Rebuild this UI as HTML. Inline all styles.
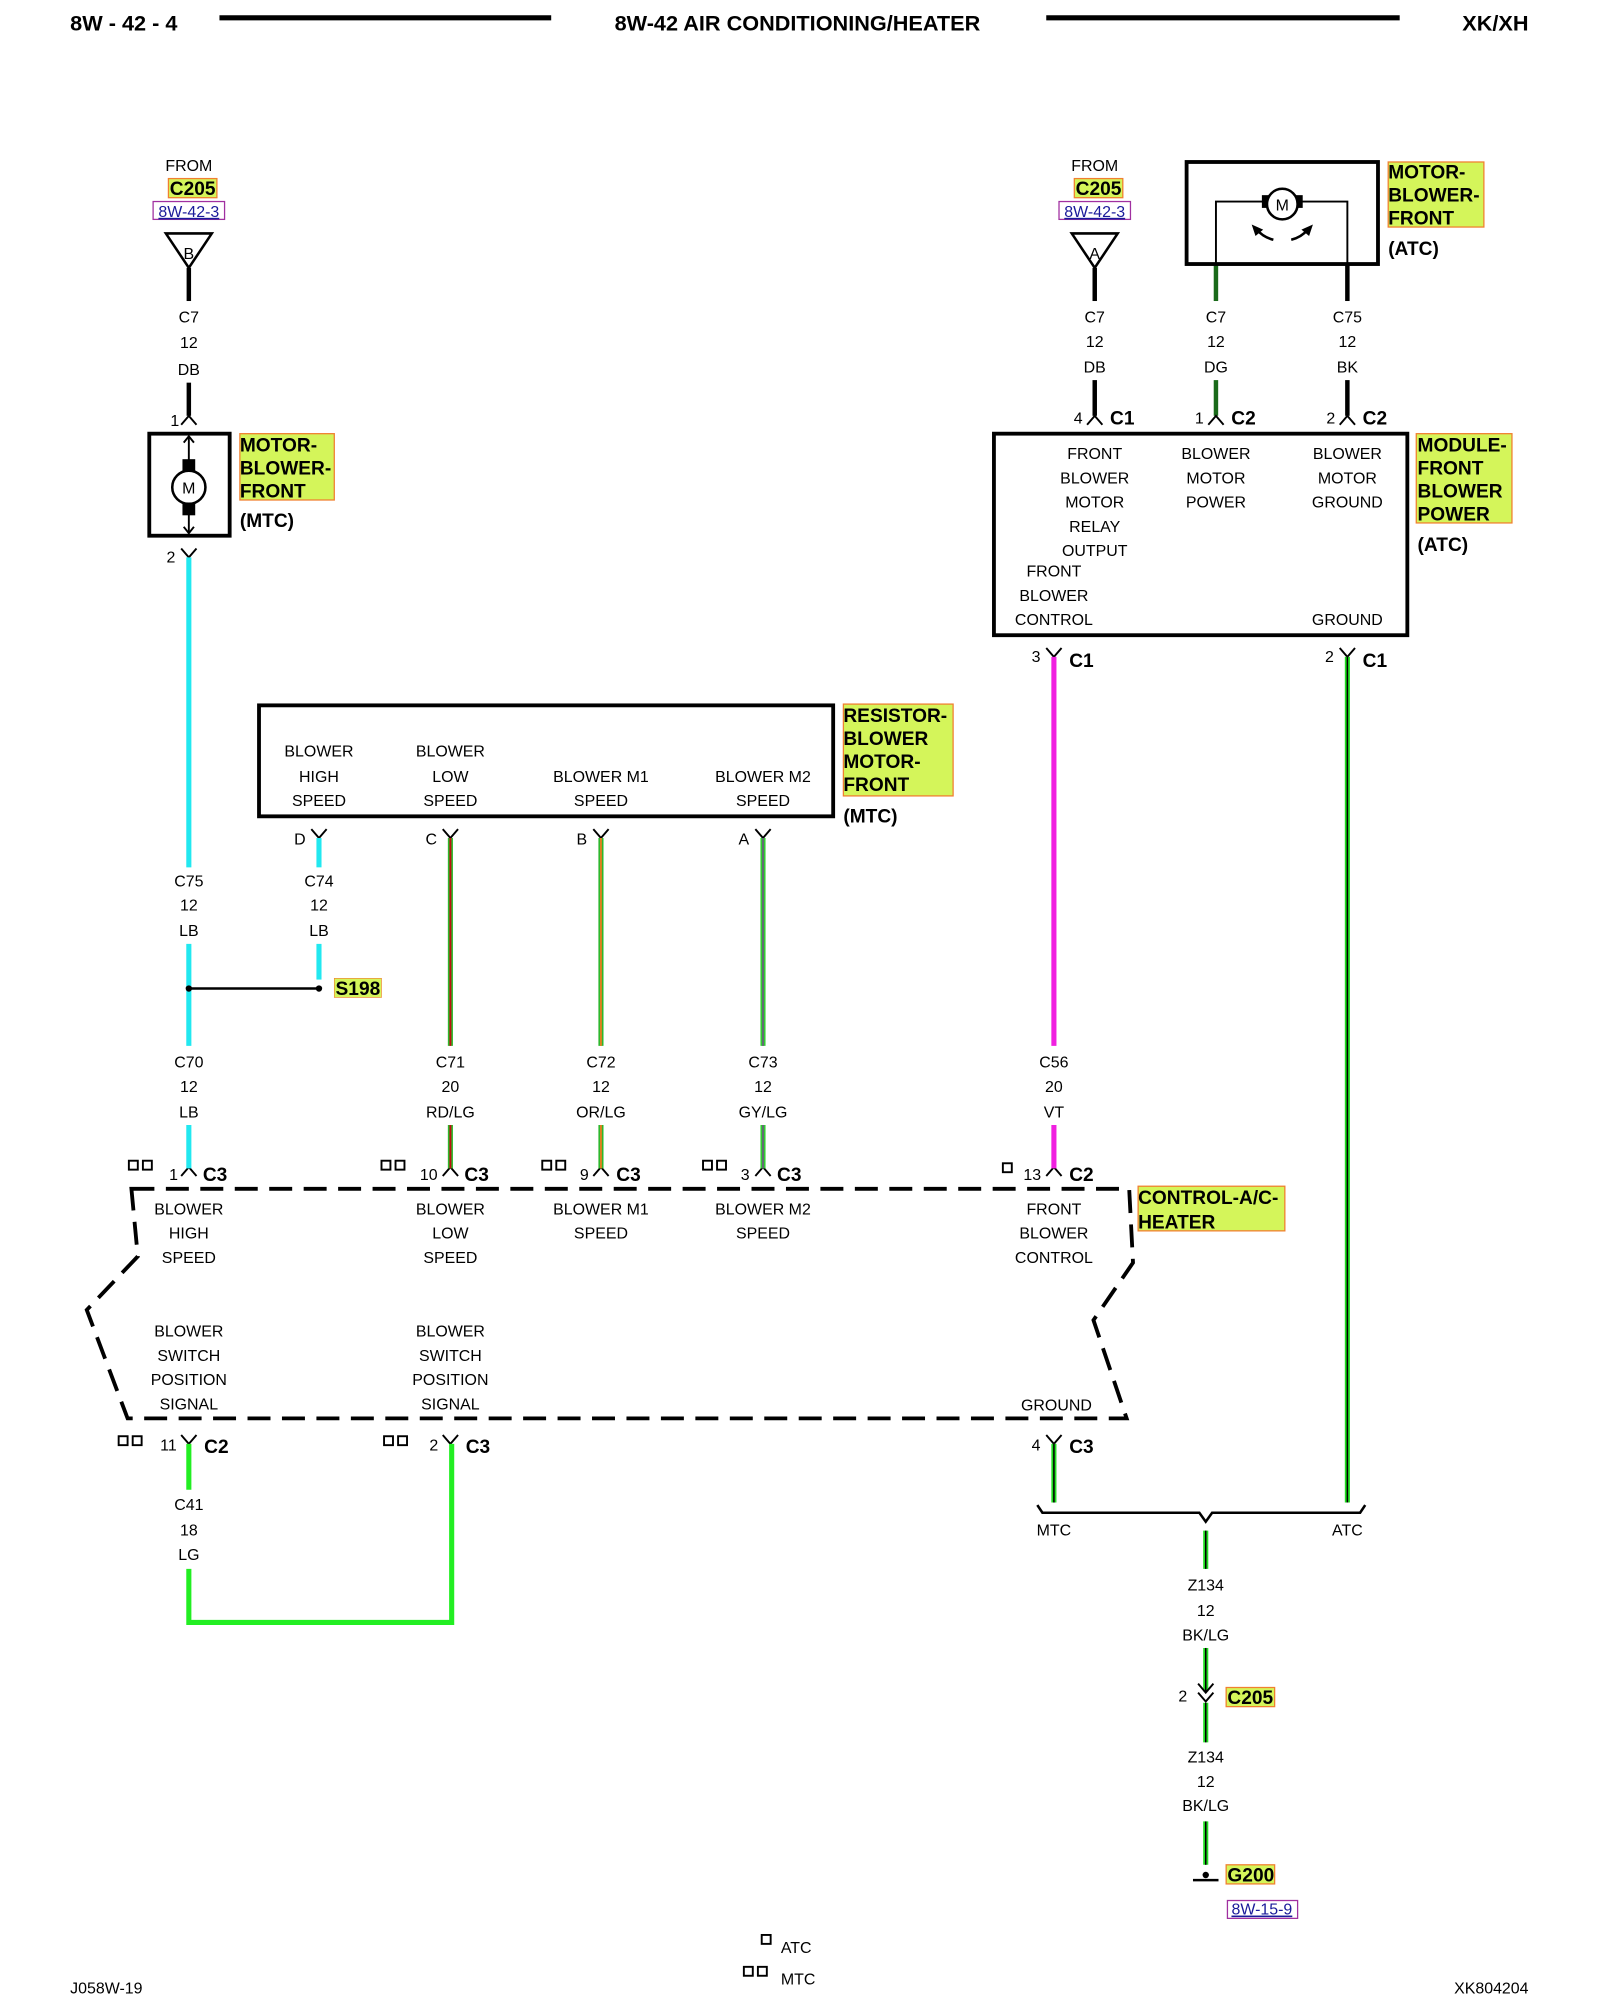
<!DOCTYPE html>
<html><head><meta charset="utf-8"><style>
html,body{margin:0;padding:0;background:#fff}
svg{display:block}
text{font-family:"Liberation Sans",Arial,sans-serif;fill:#000}
.s{font-size:12.5px;text-anchor:middle}
.b{font-size:15px;font-weight:bold}
.h{font-size:17px;font-weight:bold}
</style></head><body>
<svg width="1600" height="2000" viewBox="0 0 1254 1568" preserveAspectRatio="none" xmlns="http://www.w3.org/2000/svg">
<!-- header -->
<text x="55" y="24" class="h">8W - 42 - 4</text>
<line x1="172" y1="14" x2="432" y2="14" stroke="#000" stroke-width="4"/>
<text x="625" y="24" class="h" text-anchor="middle">8W-42 AIR CONDITIONING/HEATER</text>
<line x1="820" y1="14" x2="1097" y2="14" stroke="#000" stroke-width="4"/>
<text x="1198" y="24" class="h" text-anchor="end">XK/XH</text>

<g fill="none" stroke="#000" stroke-width="2">
<polygon points="130,183 166,183 148,210"/>
<polygon points="840,183 876,183 858,210"/>
</g>
<text x="148" y="134" class="s">FROM</text>
<rect x="132" y="140" width="38" height="15" fill="#d4f55a" stroke="#f08030"/>
<text x="151" y="153" class="b" text-anchor="middle" font-size="14">C205</text>
<rect x="120" y="158" width="56" height="14" fill="none" stroke="#a030a0"/>
<text x="148" y="170" class="s" style="fill:#1a1a9a;text-decoration:underline">8W-42-3</text>
<text x="148" y="203" class="s">B</text>

<text x="858" y="134" class="s">FROM</text>
<rect x="842" y="140" width="38" height="15" fill="#d4f55a" stroke="#f08030"/>
<text x="861" y="153" class="b" text-anchor="middle" font-size="14">C205</text>
<rect x="830" y="158" width="56" height="14" fill="none" stroke="#a030a0"/>
<text x="858" y="170" class="s" style="fill:#1a1a9a;text-decoration:underline">8W-42-3</text>
<text x="858" y="203" class="s">A</text>

<g stroke="#000" stroke-width="3.5" fill="none">
<line x1="148" y1="210" x2="148" y2="236"/>
<line x1="148" y1="300" x2="148" y2="326"/>
<line x1="858" y1="210" x2="858" y2="236"/>
<line x1="858" y1="298" x2="858" y2="326"/>
<line x1="1056" y1="207" x2="1056" y2="236"/>
<line x1="1056" y1="298" x2="1056" y2="326"/>
</g>
<g stroke="#1a6a1a" stroke-width="3.5" fill="none">
<line x1="953" y1="207" x2="953" y2="236"/>
<line x1="953" y1="298" x2="953" y2="326"/>
</g>
<g>
<text x="148" y="253" class="s">C7</text><text x="148" y="273" class="s">12</text><text x="148" y="294" class="s">DB</text>
<text x="858" y="253" class="s">C7</text><text x="858" y="272" class="s">12</text><text x="858" y="292" class="s">DB</text>
<text x="953" y="253" class="s">C7</text><text x="953" y="272" class="s">12</text><text x="953" y="292" class="s">DG</text>
<text x="1056" y="253" class="s">C75</text><text x="1056" y="272" class="s">12</text><text x="1056" y="292" class="s">BK</text>
</g>

<g stroke="#000" stroke-width="1.5" fill="none">
<path d="M142,333 L148,326 L154,333"/>
<path d="M852,333 L858,326 L864,333"/>
<path d="M947,333 L953,326 L959,333"/>
<path d="M1050,333 L1056,326 L1062,333"/>
</g>
<text x="137" y="334" class="s">1</text>
<text x="845" y="332" class="s">4</text><text x="870" y="333" class="b">C1</text>
<text x="940" y="332" class="s">1</text><text x="965" y="333" class="b">C2</text>
<text x="1043" y="332" class="s">2</text><text x="1068" y="333" class="b">C2</text>

<rect x="117" y="340" width="63" height="80" fill="none" stroke="#000" stroke-width="3"/>
<line x1="148" y1="342" x2="148" y2="418" stroke="#000" stroke-width="1.5"/>
<path d="M144,347 L148,342 L152,347 M144,413 L148,418 L152,413" stroke="#000" fill="none" stroke-width="1.5"/>
<rect x="143" y="360" width="10" height="44" fill="#000"/>
<circle cx="148" cy="382" r="13" fill="#fff" stroke="#000" stroke-width="2"/>
<text x="148" y="387" class="s" font-size="11">M</text>
<rect x="188" y="340" width="74" height="52" fill="#d4f55a" stroke="#f08030"/>
<text x="188" y="354" class="b">MOTOR-</text>
<text x="188" y="372" class="b">BLOWER-</text>
<text x="188" y="390" class="b">FRONT</text>
<text x="188" y="413" class="b">(MTC)</text>

<rect x="930" y="127" width="150" height="80" fill="none" stroke="#000" stroke-width="3"/>
<path d="M953,207 L953,158 L992,158 M1018,158 L1056,158 L1056,207" stroke="#000" stroke-width="1.5" fill="none"/>
<rect x="989" y="153" width="32" height="10" fill="#000"/>
<circle cx="1005" cy="160" r="12" fill="#fff" stroke="#000" stroke-width="2"/>
<text x="1005" y="165" class="s" font-size="11">M</text>
<path d="M998,188 Q990,186 985,180" stroke="#000" stroke-width="2" fill="none"/>
<path d="M981,176 L990,180 L984,185 Z" fill="#000"/>
<path d="M1012,188 Q1020,186 1025,180" stroke="#000" stroke-width="2" fill="none"/>
<path d="M1029,176 L1020,180 L1026,185 Z" fill="#000"/>
<rect x="1088" y="127" width="75" height="51" fill="#d4f55a" stroke="#f08030"/>
<text x="1088" y="140" class="b">MOTOR-</text>
<text x="1088" y="158" class="b">BLOWER-</text>
<text x="1088" y="176" class="b">FRONT</text>
<text x="1088" y="200" class="b">(ATC)</text>

<rect x="779" y="340" width="324" height="158" fill="none" stroke="#000" stroke-width="3"/>
<g>
<text x="858" y="360" class="s">FRONT</text><text x="858" y="379" class="s">BLOWER</text><text x="858" y="398" class="s">MOTOR</text><text x="858" y="417" class="s">RELAY</text><text x="858" y="436" class="s">OUTPUT</text>
<text x="953" y="360" class="s">BLOWER</text><text x="953" y="379" class="s">MOTOR</text><text x="953" y="398" class="s">POWER</text>
<text x="1056" y="360" class="s">BLOWER</text><text x="1056" y="379" class="s">MOTOR</text><text x="1056" y="398" class="s">GROUND</text>
<text x="826" y="452" class="s">FRONT</text><text x="826" y="471" class="s">BLOWER</text><text x="826" y="490" class="s">CONTROL</text>
<text x="1056" y="490" class="s">GROUND</text>
</g>
<rect x="1110" y="340" width="75" height="70" fill="#d4f55a" stroke="#f08030"/>
<text x="1111" y="354" class="b">MODULE-</text>
<text x="1111" y="372" class="b">FRONT</text>
<text x="1111" y="390" class="b">BLOWER</text>
<text x="1111" y="408" class="b">POWER</text>
<text x="1111" y="432" class="b">(ATC)</text>

<g stroke="#000" stroke-width="1.5" fill="none">
<path d="M142,430 L148,437 L154,430"/>
<path d="M820,508 L826,515 L832,508"/>
<path d="M1050,508 L1056,515 L1062,508"/>
<path d="M244,650 L250,657 L256,650"/>
<path d="M347,650 L353,657 L359,650"/>
<path d="M465,650 L471,657 L477,650"/>
<path d="M592,650 L598,657 L604,650"/>
<path d="M142,1125 L148,1132 L154,1125"/>
<path d="M347,1125 L353,1132 L359,1125"/>
<path d="M820,1125 L826,1132 L832,1125"/>
<path d="M142,922 L148,915 L154,922"/>
<path d="M347,922 L353,915 L359,922"/>
<path d="M465,922 L471,915 L477,922"/>
<path d="M592,922 L598,915 L604,922"/>
<path d="M820,922 L826,915 L832,922"/>
</g>
<text x="134" y="441" class="s">2</text>
<text x="812" y="519" class="s">3</text><text x="838" y="523" class="b">C1</text>
<text x="1042" y="519" class="s">2</text><text x="1068" y="523" class="b">C1</text>

<g fill="none">
<line x1="148" y1="437" x2="148" y2="680" stroke="#22e8f0" stroke-width="4"/>
<line x1="148" y1="740" x2="148" y2="820" stroke="#22e8f0" stroke-width="4"/>
<line x1="148" y1="882" x2="148" y2="916" stroke="#22e8f0" stroke-width="4"/>
<line x1="250" y1="657" x2="250" y2="680" stroke="#22e8f0" stroke-width="4"/>
<line x1="250" y1="740" x2="250" y2="768" stroke="#22e8f0" stroke-width="4"/>
<line x1="148" y1="775" x2="250" y2="775" stroke="#000" stroke-width="2"/>
<g stroke-width="4">
<line x1="353" y1="657" x2="353" y2="820" stroke="#2db82d"/>
<line x1="353" y1="882" x2="353" y2="916" stroke="#2db82d"/>
<line x1="471" y1="657" x2="471" y2="820" stroke="#2db82d"/>
<line x1="471" y1="882" x2="471" y2="916" stroke="#2db82d"/>
<line x1="598" y1="657" x2="598" y2="820" stroke="#33cc33"/>
<line x1="598" y1="882" x2="598" y2="916" stroke="#33cc33"/>
</g>
<g stroke-width="1.5">
<line x1="353" y1="657" x2="353" y2="820" stroke="#c01010"/>
<line x1="353" y1="882" x2="353" y2="916" stroke="#c01010"/>
<line x1="471" y1="657" x2="471" y2="820" stroke="#e08020"/>
<line x1="471" y1="882" x2="471" y2="916" stroke="#e08020"/>
<line x1="598" y1="657" x2="598" y2="820" stroke="#667"/>
<line x1="598" y1="882" x2="598" y2="916" stroke="#667"/>
</g>
<line x1="826" y1="515" x2="826" y2="820" stroke="#f020e0" stroke-width="4"/>
<line x1="826" y1="882" x2="826" y2="916" stroke="#f020e0" stroke-width="4"/>
<line x1="1056" y1="515" x2="1056" y2="1178" stroke="#22dd22" stroke-width="4"/>
<line x1="1056" y1="515" x2="1056" y2="1178" stroke="#000" stroke-width="1.2"/>
<path d="M148,1132 L148,1168 M148,1230 L148,1272 L354,1272 L354,1132" stroke="#22ee22" stroke-width="4"/>
<line x1="826" y1="1132" x2="826" y2="1178" stroke="#22dd22" stroke-width="4"/>
<line x1="826" y1="1132" x2="826" y2="1178" stroke="#000" stroke-width="1.2"/>
<g stroke="#22dd22" stroke-width="4">
<line x1="945" y1="1200" x2="945" y2="1230"/>
<line x1="945" y1="1292" x2="945" y2="1326"/>
<line x1="945" y1="1335" x2="945" y2="1366"/>
<line x1="945" y1="1428" x2="945" y2="1462"/>
</g>
<g stroke="#000" stroke-width="1.2">
<line x1="945" y1="1200" x2="945" y2="1230"/>
<line x1="945" y1="1292" x2="945" y2="1326"/>
<line x1="945" y1="1335" x2="945" y2="1366"/>
<line x1="945" y1="1428" x2="945" y2="1462"/>
</g>
</g>
<circle cx="148" cy="775" r="2.5" fill="#000"/>
<circle cx="250" cy="775" r="2.5" fill="#000"/>
<rect x="262" y="767" width="37" height="15" fill="#d4f55a" stroke="#f08030" stroke-width="0.5"/>
<text x="263" y="780" class="b" font-size="14">S198</text>

<rect x="203" y="553" width="450" height="87" fill="none" stroke="#000" stroke-width="3"/>
<g>
<text x="250" y="593" class="s">BLOWER</text><text x="250" y="613" class="s">HIGH</text><text x="250" y="632" class="s">SPEED</text>
<text x="353" y="593" class="s">BLOWER</text><text x="353" y="613" class="s">LOW</text><text x="353" y="632" class="s">SPEED</text>
<text x="471" y="613" class="s">BLOWER M1</text><text x="471" y="632" class="s">SPEED</text>
<text x="598" y="613" class="s">BLOWER M2</text><text x="598" y="632" class="s">SPEED</text>
</g>
<rect x="661" y="552" width="86" height="72" fill="#d4f55a" stroke="#f08030"/>
<text x="661" y="566" class="b">RESISTOR-</text>
<text x="661" y="584" class="b">BLOWER</text>
<text x="661" y="602" class="b">MOTOR-</text>
<text x="661" y="620" class="b">FRONT</text>
<text x="661" y="645" class="b">(MTC)</text>
<text x="235" y="662" class="s">D</text><text x="338" y="662" class="s">C</text><text x="456" y="662" class="s">B</text><text x="583" y="662" class="s">A</text>

<g>
<text x="148" y="695" class="s">C75</text><text x="148" y="714" class="s">12</text><text x="148" y="734" class="s">LB</text>
<text x="250" y="695" class="s">C74</text><text x="250" y="714" class="s">12</text><text x="250" y="734" class="s">LB</text>
<text x="148" y="837" class="s">C70</text><text x="148" y="856" class="s">12</text><text x="148" y="876" class="s">LB</text>
<text x="353" y="837" class="s">C71</text><text x="353" y="856" class="s">20</text><text x="353" y="876" class="s">RD/LG</text>
<text x="471" y="837" class="s">C72</text><text x="471" y="856" class="s">12</text><text x="471" y="876" class="s">OR/LG</text>
<text x="598" y="837" class="s">C73</text><text x="598" y="856" class="s">12</text><text x="598" y="876" class="s">GY/LG</text>
<text x="826" y="837" class="s">C56</text><text x="826" y="856" class="s">20</text><text x="826" y="876" class="s">VT</text>
<text x="148" y="1184" class="s">C41</text><text x="148" y="1204" class="s">18</text><text x="148" y="1223" class="s">LG</text>
<text x="945" y="1247" class="s">Z134</text><text x="945" y="1267" class="s">12</text><text x="945" y="1286" class="s">BK/LG</text>
<text x="945" y="1382" class="s">Z134</text><text x="945" y="1401" class="s">12</text><text x="945" y="1420" class="s">BK/LG</text>
</g>

<g fill="none" stroke="#000" stroke-width="1.5">
<rect x="101" y="910" width="7" height="7"/><rect x="112" y="910" width="7" height="7"/>
<rect x="299" y="910" width="7" height="7"/><rect x="310" y="910" width="7" height="7"/>
<rect x="425" y="910" width="7" height="7"/><rect x="436" y="910" width="7" height="7"/>
<rect x="551" y="910" width="7" height="7"/><rect x="562" y="910" width="7" height="7"/>
<rect x="786" y="912" width="7" height="7"/>
<rect x="93" y="1126" width="7" height="7"/><rect x="104" y="1126" width="7" height="7"/>
<rect x="301" y="1126" width="7" height="7"/><rect x="312" y="1126" width="7" height="7"/>
<rect x="597" y="1517" width="7" height="7"/>
<rect x="583" y="1542" width="7" height="7"/><rect x="594" y="1542" width="7" height="7"/>
</g>
<text x="136" y="925" class="s">1</text><text x="159" y="926" class="b">C3</text>
<text x="336" y="925" class="s">10</text><text x="364" y="926" class="b">C3</text>
<text x="458" y="925" class="s">9</text><text x="483" y="926" class="b">C3</text>
<text x="584" y="925" class="s">3</text><text x="609" y="926" class="b">C3</text>
<text x="809" y="925" class="s">13</text><text x="838" y="926" class="b">C2</text>
<text x="132" y="1137" class="s">11</text><text x="160" y="1139" class="b">C2</text>
<text x="340" y="1137" class="s">2</text><text x="365" y="1139" class="b">C3</text>
<text x="812" y="1137" class="s">4</text><text x="838" y="1139" class="b">C3</text>

<path d="M103,932 L885,932 L888,990 L857,1035 L883,1112 L100,1112 L68,1027 L108,985 Z" fill="none" stroke="#000" stroke-width="3" stroke-dasharray="18,9"/>
<g>
<text x="148" y="952" class="s">BLOWER</text><text x="148" y="971" class="s">HIGH</text><text x="148" y="990" class="s">SPEED</text>
<text x="353" y="952" class="s">BLOWER</text><text x="353" y="971" class="s">LOW</text><text x="353" y="990" class="s">SPEED</text>
<text x="471" y="952" class="s">BLOWER M1</text><text x="471" y="971" class="s">SPEED</text>
<text x="598" y="952" class="s">BLOWER M2</text><text x="598" y="971" class="s">SPEED</text>
<text x="826" y="952" class="s">FRONT</text><text x="826" y="971" class="s">BLOWER</text><text x="826" y="990" class="s">CONTROL</text>
<text x="148" y="1048" class="s">BLOWER</text><text x="148" y="1067" class="s">SWITCH</text><text x="148" y="1086" class="s">POSITION</text><text x="148" y="1105" class="s">SIGNAL</text>
<text x="353" y="1048" class="s">BLOWER</text><text x="353" y="1067" class="s">SWITCH</text><text x="353" y="1086" class="s">POSITION</text><text x="353" y="1105" class="s">SIGNAL</text>
<text x="828" y="1106" class="s">GROUND</text>
</g>
<rect x="892" y="930" width="115" height="35" fill="#d4f55a" stroke="#f08030"/>
<text x="892" y="944" class="b">CONTROL-A/C-</text>
<text x="892" y="963" class="b">HEATER</text>

<path d="M813,1180 L817,1186 L940,1186 L945,1193 L950,1186 L1066,1186 L1070,1180" fill="none" stroke="#000" stroke-width="2"/>
<text x="826" y="1204" class="s">MTC</text>
<text x="1056" y="1204" class="s">ATC</text>

<path d="M939,1320 L945,1327 L951,1320 M939,1327 L945,1334 L951,1327" stroke="#000" stroke-width="1.5" fill="none"/>
<text x="927" y="1334" class="s">2</text>
<rect x="961" y="1323" width="38" height="15" fill="#d4f55a" stroke="#f08030"/>
<text x="962" y="1336" class="b" font-size="14">C205</text>

<line x1="935" y1="1474" x2="955" y2="1474" stroke="#000" stroke-width="2"/>
<circle cx="945" cy="1470" r="2.5" fill="#000"/>
<rect x="961" y="1462" width="38" height="15" fill="#d4f55a" stroke="#f08030"/>
<text x="962" y="1475" class="b" font-size="14">G200</text>
<rect x="962" y="1490" width="55" height="14" fill="none" stroke="#a030a0"/>
<text x="989" y="1501" class="s" style="fill:#1a1a9a;text-decoration:underline">8W-15-9</text>

<text x="612" y="1531" font-size="12.5">ATC</text>
<text x="612" y="1556" font-size="12.5">MTC</text>
<text x="55" y="1563" font-size="12.5">J058W-19</text>
<text x="1198" y="1563" font-size="12.5" text-anchor="end">XK804204</text>
</svg>
</body></html>
